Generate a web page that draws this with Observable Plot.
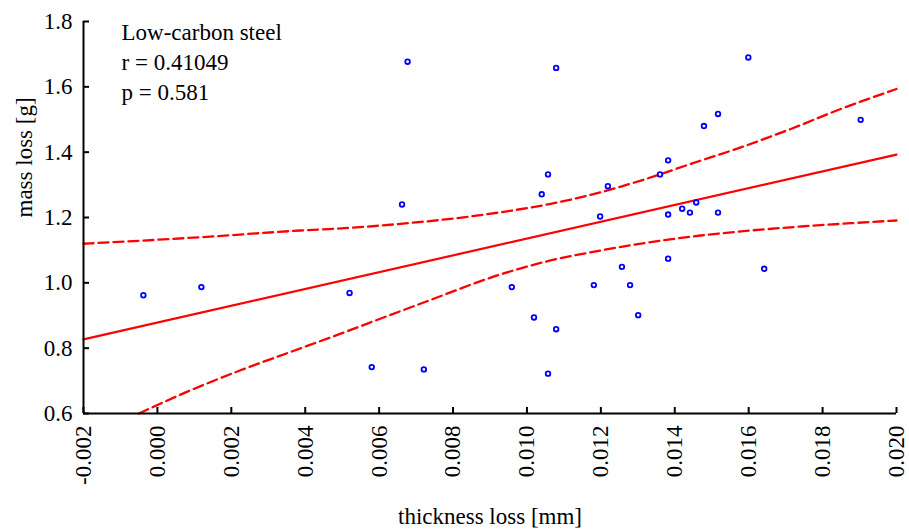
<!DOCTYPE html>
<html>
<head>
<meta charset="utf-8">
<script src="https://cdn.jsdelivr.net/npm/d3@7"></script>
<script src="https://cdn.jsdelivr.net/npm/@observablehq/plot@0.6"></script>
<style>
  html, body { margin: 0; padding: 0; background: #fff; }
  svg { display: block; }
</style>
</head>
<body>
<div id="chart"></div>
<script>
// Scatter data: thickness loss [mm] vs mass loss [g]
const thicknessLoss = [-0.00038, 0.00119, 0.0052, 0.0058, 0.00721, 0.00677, 0.00662, 0.01079, 0.01599, 0.01517,
  0.01479, 0.01903, 0.01382, 0.0136, 0.01057, 0.0104, 0.01219, 0.01198, 0.01382, 0.0142,
  0.01441, 0.01458, 0.01517, 0.01382, 0.01257, 0.01642, 0.00959, 0.01181, 0.01279, 0.01019,
  0.01079, 0.01301, 0.01057];
const massLoss = [0.962, 0.987, 0.969, 0.742, 0.735, 1.677, 1.240, 1.658, 1.690, 1.517,
  1.480, 1.499, 1.375, 1.332, 1.332, 1.271, 1.296, 1.203, 1.209, 1.227,
  1.215, 1.246, 1.215, 1.074, 1.049, 1.043, 0.987, 0.993, 0.993, 0.894,
  0.858, 0.901, 0.722];

// Regression line
const fitX = [-0.002, 0.020];
const fitY = [0.827, 1.3925];

// Upper confidence curve
const upperX = [-0.002, 0.00117, 0.00387, 0.00523, 0.00658, 0.00794, 0.00929, 0.01064, 0.0120, 0.01308, 0.01443, 0.01579, 0.01714, 0.01849, 0.0200];
const upperY = [1.1196, 1.1397, 1.1602, 1.1685, 1.1807, 1.196, 1.2161, 1.2418, 1.2773, 1.313, 1.364, 1.4148, 1.471, 1.5321, 1.5933];

// Lower confidence curve
const lowerX = [-0.0005, 0.0009, 0.00225, 0.0036, 0.00496, 0.00631, 0.00726, 0.00929, 0.01064, 0.0120, 0.01335, 0.0147, 0.01606, 0.01741, 0.01876, 0.0200];
const lowerY = [0.600, 0.6712, 0.7324, 0.7883, 0.8445, 0.902, 0.9420, 1.0260, 1.0685, 1.0991, 1.1245, 1.1449, 1.1602, 1.1724, 1.1825, 1.1908];

// Axis ticks
const xTicks = [-0.002, 0.000, 0.002, 0.004, 0.006, 0.008, 0.010, 0.012, 0.014, 0.016, 0.018, 0.020];
const yTicks = [0.6, 0.8, 1.0, 1.2, 1.4, 1.6, 1.8];

const annotation = ["Low-carbon steel", "r = 0.41049", "p = 0.581"];
const xLabel = "thickness loss [mm]";
const yLabel = "mass loss [g]";

const points = thicknessLoss.map((x, i) => ({x, y: massLoss[i]}));
const fit = fitX.map((x, i) => ({x, y: fitY[i]}));
const upper = upperX.map((x, i) => ({x, y: upperY[i]}));
const lower = lowerX.map((x, i) => ({x, y: lowerY[i]}));

const chart = Plot.plot({
  width: 909,
  height: 532,
  marginLeft: 83,
  marginRight: 13,
  marginTop: 21,
  marginBottom: 119,
  style: {fontFamily: "'Liberation Serif', 'Times New Roman', serif", fontSize: "23px", color: "#000", background: "#fff"},
  x: {domain: [-0.002, 0.020]},
  y: {domain: [0.6, 1.8]},
  marks: [
    Plot.line(upper, {x: "x", y: "y", curve: "monotone-x", stroke: "#ff0000", strokeWidth: 2.3, strokeDasharray: "10,5"}),
    Plot.line(lower, {x: "x", y: "y", curve: "monotone-x", stroke: "#ff0000", strokeWidth: 2.3, strokeDasharray: "10,5"}),
    Plot.line(fit, {x: "x", y: "y", stroke: "#ff0000", strokeWidth: 2.2}),
    Plot.dot(points, {x: "x", y: "y", r: 2.3, stroke: "#0000ff", strokeWidth: 1.8, fill: "none"}),
    Plot.axisY(yTicks, {tickSize: -6, tickPadding: 17, strokeWidth: 2, tickFormat: d => d.toFixed(1), label: null, fontSize: 23}),
    Plot.axisX(xTicks, {tickSize: -6, tickPadding: 18, strokeWidth: 2, tickRotate: -90, tickFormat: d => d.toFixed(3), label: null, fontSize: 23}),
    Plot.ruleX([-0.002], {stroke: "#000", strokeWidth: 2}),
    Plot.ruleY([0.6], {stroke: "#000", strokeWidth: 2}),
    Plot.text([annotation.join("\n")], {frameAnchor: "top-left", dx: 38, dy: -3, lineAnchor: "top", textAnchor: "start", lineHeight: 1.304, fontSize: 23, fill: "#000"}),
    Plot.text([xLabel], {frameAnchor: "bottom", dy: 110, lineAnchor: "bottom", fontSize: 23, fill: "#000"}),
    Plot.text([yLabel], {frameAnchor: "left", dx: -52, rotate: -90, lineAnchor: "bottom", fontSize: 23, fill: "#000"})
  ]
});
document.getElementById("chart").appendChild(chart);
</script>
</body>
</html>
